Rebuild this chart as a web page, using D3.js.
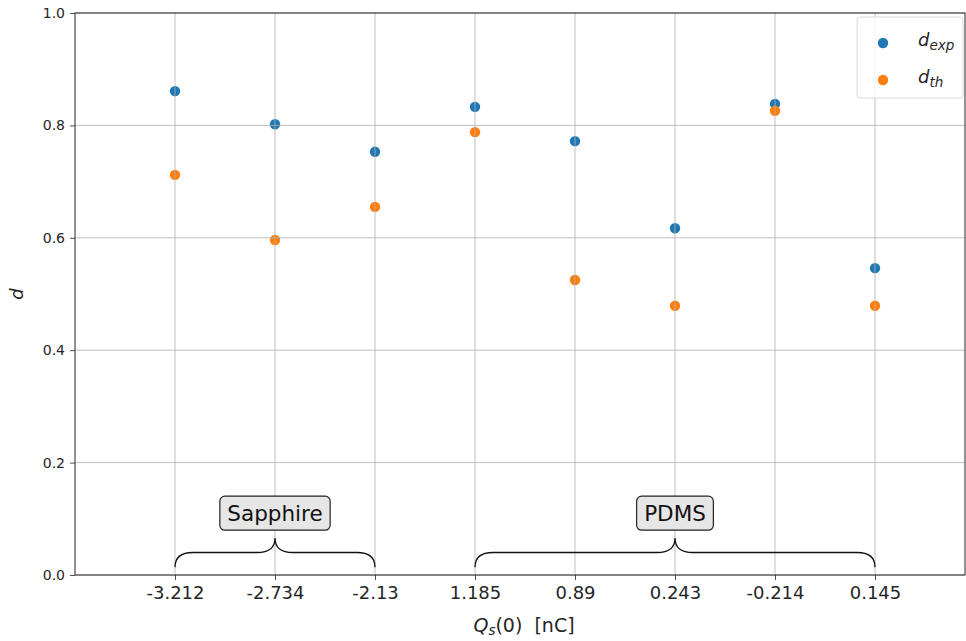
<!DOCTYPE html>
<html>
<head>
<meta charset="utf-8">
<script src="https://cdn.jsdelivr.net/npm/d3@7"></script>
<style>
  body { margin: 0; background: #fff; }
  text { font-family: "DejaVu Sans", sans-serif; }
</style>
</head>
<body>
<div id="chart"></div>
<script>
(function(d3) {
    'use strict';

    // data
    var tickLabels = ['-3.212', '-2.734', '-2.13', '1.185', '0.89', '0.243', '-0.214', '0.145'];
    var dExp = [0.861, 0.802, 0.753, 0.833, 0.772, 0.617, 0.838, 0.546];
    var dTh  = [0.712, 0.596, 0.655, 0.788, 0.525, 0.479, 0.826, 0.479];
    var yTicks = [0, 0.2, 0.4, 0.6, 0.8, 1.0];
    var groups = [
        { name: 'Sapphire', from: 0, to: 2 },
        { name: 'PDMS', from: 3, to: 7 }
    ];

    var width = 966,
        height = 641,
        margin = { left: 75, right: 1, top: 13, bottom: 66 };

    var blue = '#1f77b4', orange = '#ff7f0e';

    var x = d3.scaleLinear()
        .domain([-1, 7.9])
        .range([margin.left, width - margin.right]);

    var y = d3.scaleLinear()
        .domain([0, 1])
        .range([height - margin.bottom, margin.top]);

    var svg = d3.select('#chart').append('svg')
        .attr('width', width)
        .attr('height', height);

    // points (drawn below the grid, like matplotlib)
    var series = [
        { values: dExp, color: blue },
        { values: dTh, color: orange }
    ];
    series.forEach(function(s) {
        svg.append('g').selectAll('circle')
            .data(s.values)
            .enter()
            .append('circle')
            .attr('cx', function(d, i) { return x(i); })
            .attr('cy', function(d) { return y(d); })
            .attr('r', 5.2)
            .attr('fill', s.color);
    });

    // grid
    var grid = svg.append('g')
        .attr('stroke', '#b0b0b0')
        .attr('stroke-width', 0.8);
    grid.selectAll('.gx')
        .data(tickLabels)
        .enter()
        .append('line')
        .attr('x1', function(d, i) { return x(i); })
        .attr('x2', function(d, i) { return x(i); })
        .attr('y1', y(0))
        .attr('y2', y(1));
    grid.selectAll('.gy')
        .data(yTicks)
        .enter()
        .append('line')
        .attr('x1', x.range()[0])
        .attr('x2', x.range()[1])
        .attr('y1', function(d) { return y(d); })
        .attr('y2', function(d) { return y(d); });

    // axes
    var xAxis = d3.axisBottom(x)
        .tickValues(d3.range(tickLabels.length))
        .tickFormat(function(d) { return tickLabels[d]; })
        .tickSize(5)
        .tickPadding(6)
        .tickSizeOuter(0);
    var gx = svg.append('g')
        .attr('transform', 'translate(0,' + y(0) + ')')
        .call(xAxis);

    var yAxis = d3.axisLeft(y)
        .tickValues(yTicks)
        .tickFormat(d3.format('.1f'))
        .tickSize(5)
        .tickPadding(5)
        .tickSizeOuter(0);
    var gy = svg.append('g')
        .attr('transform', 'translate(' + x.range()[0] + ',0)')
        .call(yAxis);

    [gx, gy].forEach(function(g) {
        g.attr('font-family', '"DejaVu Sans", sans-serif');
        g.selectAll('text').attr('fill', '#262626');
        g.selectAll('.tick line').attr('stroke', '#262626').attr('stroke-width', 0.8);
        g.select('.domain').remove();
    });
    gx.attr('font-size', 18);
    gy.attr('font-size', 14);

    // frame
    svg.append('rect')
        .attr('x', x.range()[0])
        .attr('y', y(1))
        .attr('width', x.range()[1] - x.range()[0])
        .attr('height', y(0) - y(1))
        .attr('fill', 'none')
        .attr('stroke', '#262626')
        .attr('stroke-width', 1);

    // axis labels
    var xl = svg.append('text')
        .attr('x', (x.range()[0] + x.range()[1]) / 2 + 4)
        .attr('y', 632)
        .attr('text-anchor', 'middle')
        .attr('font-size', 19)
        .attr('fill', '#262626');
    xl.append('tspan').attr('font-style', 'italic').text('Q');
    xl.append('tspan').attr('font-style', 'italic').attr('font-size', 13.5).attr('dy', 3).text('s');
    xl.append('tspan').attr('dy', -3).text('(0)\u00a0\u00a0[nC]');

    svg.append('text')
        .attr('transform', 'translate(23,' + (y(0) + y(1)) / 2 + ') rotate(-90)')
        .attr('text-anchor', 'middle')
        .attr('font-size', 18)
        .attr('font-style', 'italic')
        .attr('fill', '#262626')
        .text('d');

    // braces and group labels
    var yb = 0.014, yf = 0.04, yt = 0.066, yBox = 0.11;
    groups.forEach(function(g) {
        var x0 = x(g.from), x1 = x(g.to), xm = (x0 + x1) / 2;
        var b = y(yb), f = y(yf), t = y(yt), r = 18;
        var p = d3.path();
        p.moveTo(x0, b);
        p.quadraticCurveTo(x0, f, x0 + r, f);
        p.lineTo(xm - r, f);
        p.quadraticCurveTo(xm, f, xm, t);
        p.quadraticCurveTo(xm, f, xm + r, f);
        p.lineTo(x1 - r, f);
        p.quadraticCurveTo(x1, f, x1, b);
        svg.append('path')
            .attr('d', p.toString())
            .attr('fill', 'none')
            .attr('stroke', '#111')
            .attr('stroke-width', 1.3);

        var lab = svg.append('g');
        var txt = lab.append('text')
            .attr('x', xm)
            .attr('y', y(yBox))
            .attr('dy', '0.36em')
            .attr('text-anchor', 'middle')
            .attr('font-size', 21.5)
            .attr('fill', '#111')
            .text(g.name);
        var bb = txt.node().getBBox();
        lab.insert('rect', 'text')
            .attr('x', bb.x - 7.5)
            .attr('y', y(yBox) - 17)
            .attr('width', bb.width + 15)
            .attr('height', 34)
            .attr('rx', 5)
            .attr('fill', '#e6e6e6')
            .attr('stroke', '#222')
            .attr('stroke-width', 1.2);
    });

    // legend
    var lg = svg.append('g').attr('transform', 'translate(857,17)');
    lg.append('rect')
        .attr('width', 106)
        .attr('height', 81)
        .attr('rx', 3)
        .attr('fill', 'white')
        .attr('fill-opacity', 0.8)
        .attr('stroke', '#d9d9d9');
    var legendItems = [
        { sub: 'exp', color: blue },
        { sub: 'th', color: orange }
    ];
    legendItems.forEach(function(it, i) {
        var row = lg.append('g').attr('transform', 'translate(0,' + (26 + i * 37) + ')');
        row.append('circle').attr('cx', 26).attr('cy', 0).attr('r', 5.2).attr('fill', it.color);
        var t = row.append('text')
            .attr('x', 61)
            .attr('y', 3)
            .attr('font-size', 18)
            .attr('font-style', 'italic')
            .attr('fill', '#262626');
        t.append('tspan').text('d');
        t.append('tspan').attr('font-size', 13.5).attr('dy', 4).text(it.sub);
    });

})(window.d3);
</script>
</body>
</html>
